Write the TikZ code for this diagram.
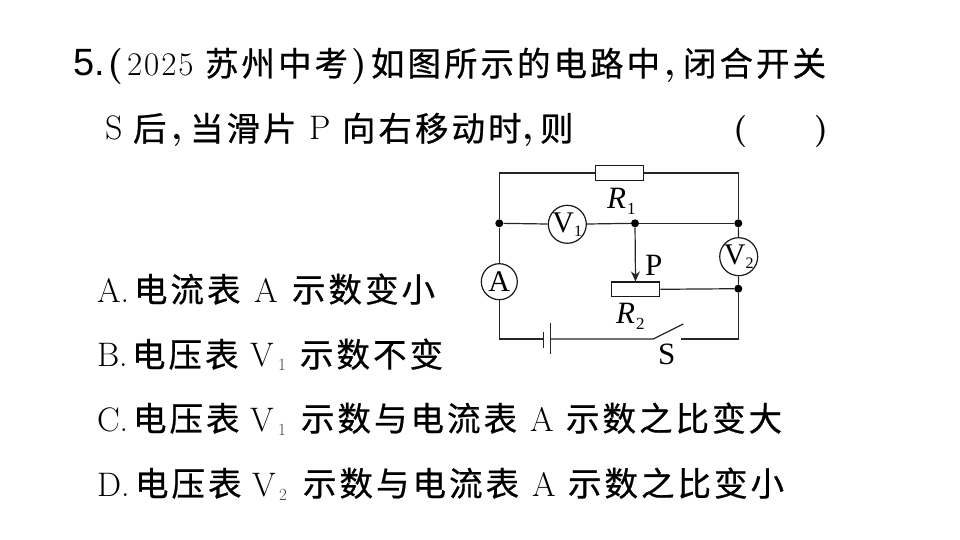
\documentclass[tikz,border=0pt]{standalone}
\usepackage{fontspec}
\usetikzlibrary{arrows.meta}
\newfontfamily\cjk[LetterSpace=9,FakeBold=0.6]{Noto Sans CJK SC}
\newfontfamily\numsans{Liberation Sans}
\newfontfamily\cirserif{Liberation Serif}
\newfontfamily\cirit[ItalicFont=Liberation Serif Italic,UprightFont=Liberation Serif Italic]{Liberation Serif}
\newfontfamily\yearfont[LetterSpace=6]{Latin Modern Roman}
\tikzset{
 txt/.style={inner sep=0pt,outer sep=0pt,anchor=base west,font=\fontsize{34}{34}\selectfont},
 cn/.style={txt,font=\fontsize{33.5}{34}\selectfont\cjk},
 punct/.style={txt,font=\fontsize{36}{36}\selectfont\bfseries},
 sub/.style={inner sep=0pt,outer sep=0pt,anchor=base west,font=\fontsize{17}{17}\selectfont,text=black!75},
 wire/.style={line width=1.2pt,black!85},
 meter/.style={circle,draw=black!90,line width=1.2pt,fill=white,minimum size=36pt,inner sep=0pt,font=\fontsize{30}{30}\selectfont\cirserif},
 res/.style={rectangle,draw=black!90,line width=1.2pt,fill=white,minimum width=48.4pt,minimum height=14.6pt,inner sep=0pt},
 dot/.style={circle,fill=black,minimum size=8pt,inner sep=0pt},
 lab/.style={inner sep=0pt,anchor=base west,font=\fontsize{31}{31}\selectfont\cirserif},
 labit/.style={inner sep=0pt,anchor=base west,font=\fontsize{31}{31}\selectfont\cirit},
 labsub/.style={inner sep=0pt,anchor=base west,font=\fontsize{17}{17}\selectfont\cirserif}
}
\begin{document}
\begin{tikzpicture}[x=1pt,y=-1pt]
\useasboundingbox[fill=white] (0,0) rectangle (960,540);
% question text
\node[txt,font=\fontsize{38}{38}\selectfont\numsans] (q5) at (73,76) {5.};
\node[punct] (qa) at (107,76) {(};
\node[txt,font=\fontsize{33}{33}\selectfont\yearfont] (qy) at (127,76) {2025};
\node[cn] (qb) at (205,76) {苏州中考};
\node[punct] (qc) at (351,76) {)};
\node[cn] (qd) at (371,76) {如图所示的电路中};
\node[punct] (qe) at (664,76) {,};
\node[cn] (qf) at (683,76) {闭合开关};
\node[txt] (ra) at (105,140) {S};
\node[cn] (rb) at (133,141) {后};
\node[punct] (rc) at (171,140) {,};
\node[cn] (rd) at (190,141) {当滑片};
\node[txt] (re) at (309,140) {P};
\node[cn] (rf) at (342,141) {向右移动时};
\node[punct] (rg) at (522,140) {,};
\node[cn] (rh) at (540,141) {则};
\node[punct,font=\fontsize{32}{32}\selectfont\bfseries] (ri) at (733,140) {(};
\node[punct,font=\fontsize{32}{32}\selectfont\bfseries] (rj) at (814,140) {)};
% options
\node[txt] (aa) at (97,302) {A.};
\node[cn] (ab) at (134,302) {电流表};
\node[txt] (ac) at (254,302) {A};
\node[cn] (ad) at (292,302) {示数变小};
\node[txt] (ba) at (97,366) {B.};
\node[cn] (bb) at (132,367) {电压表};
\node[txt] (bc) at (250,366) {V};
\node[sub] (bd) at (278,370) {1};
\node[cn] (be) at (300,367) {示数不变};
\node[txt] (ca) at (97,431) {C.};
\node[cn] (cb) at (133,431) {电压表};
\node[txt] (cc) at (250,431) {V};
\node[sub] (cd) at (278,435) {1};
\node[cn] (ce) at (301,431) {示数与电流表};
\node[txt] (cf) at (530,431) {A};
\node[cn] (cg) at (566,431) {示数之比变大};
\node[txt] (da) at (97,496) {D.};
\node[cn] (db) at (135,496) {电压表};
\node[txt] (dc) at (252,496) {V};
\node[sub] (dd) at (279,500) {2};
\node[cn] (de) at (303,496) {示数与电流表};
\node[txt] (df) at (532,496) {A};
\node[cn] (dg) at (568,496) {示数之比变小};
% circuit
\coordinate (tl) at (499.3,173);
\coordinate (tr) at (738.3,173);
\coordinate (bl) at (499.3,339);
\coordinate (br) at (738.3,339);
\node[dot] (jl) at (499.3,223.3) {};
\node[dot] (jm) at (635,223.3) {};
\node[dot] (jr) at (738.3,223.3) {};
\node[dot] (jb) at (738.3,288.7) {};
\node[res] (r1) at (619.5,173) {};
\node[res] (r2) at (635.5,289.3) {};
\node[meter] (v1) at (567.3,224.3) {V\raisebox{-4pt}{\fontsize{16}{16}\selectfont 1}};
\node[meter] (v2) at (738.7,256.7) {V\raisebox{-4pt}{\fontsize{16}{16}\selectfont 2}};
\node[meter] (am) at (499.3,281.7) {A};
\coordinate (bs) at (543.3,339);
\coordinate (bo) at (550.3,339);
\coordinate (bst) at (543.3,331.7);
\coordinate (bsb) at (543.3,348.3);
\coordinate (blt) at (550.3,323.3);
\coordinate (blb) at (550.3,354.3);
\coordinate (swa) at (653.3,339);
\coordinate (swb) at (683.3,324);
\coordinate (swc) at (681,339);
\draw[wire] (r1.west) -- (tl) -- (jl);
\draw[wire] (r1.east) -- (tr) -- (jr);
\draw[wire] (jl) -- (v1);
\draw[wire] (v1) -- (jm);
\draw[wire] (jm) -- (jr);
\draw[wire] (jl) -- (am);
\draw[wire] (jr) -- (v2);
\draw[wire] (v2) -- (jb);
\draw[wire] (jb) -- (br) -- (swc);
\draw[wire] (r2.east) -- (jb);
\draw[wire] (am) -- (bl) -- (bs);
\draw[wire] (bst) -- (bsb);
\draw[wire] (blt) -- (blb);
\draw[wire] (bo) -- (swa) -- (swb);
\draw[wire,-{Stealth[length=10pt,width=9pt]}] (jm) -- (r2.north);
\node[labit] (lr1) at (607,208) {R};
\node[labsub] (lr1s) at (627,214) {1};
\node[labit] (lr2) at (616,323) {R};
\node[labsub] (lr2s) at (636,329) {2};
\node[lab] (lp) at (645,275) {P};
\node[lab] (ls) at (658,364) {S};
\end{tikzpicture}
\end{document}
